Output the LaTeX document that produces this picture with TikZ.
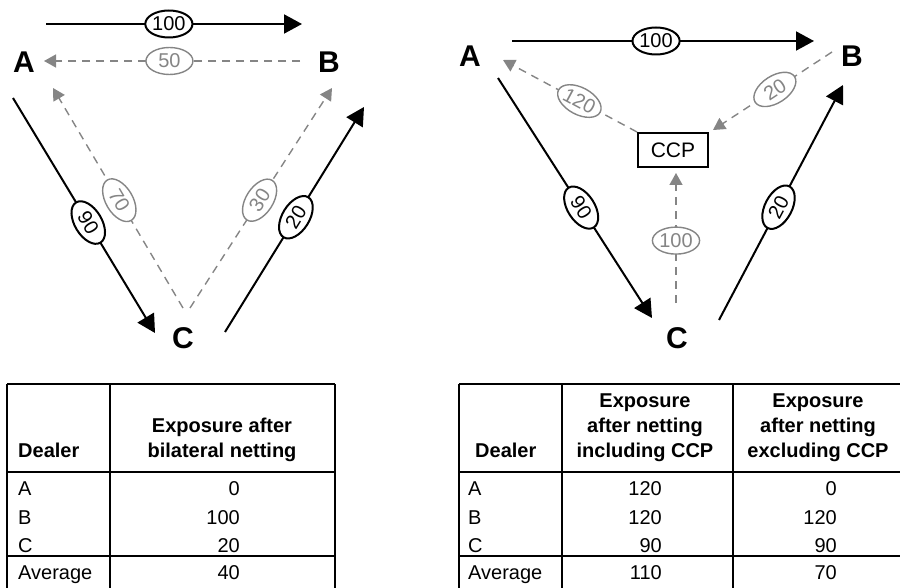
\documentclass[tikz,border=0pt]{standalone}
\usepackage{fontspec}
\setmainfont{Liberation Sans}
\usetikzlibrary{arrows.meta,shapes.geometric}
\definecolor{mid}{gray}{0.52}
\tikzset{
  party/.style={font=\fontsize{30}{34}\selectfont\bfseries,inner sep=0pt},
  arr/.style={-{Triangle[length=18pt,width=19pt]},line width=2pt},
  net/.style={-{Triangle[length=12pt,width=13pt]},line width=1.4pt,mid,
    dash pattern=on 8pt off 6pt},
  tag/.style={ellipse,draw=black,solid,line width=2pt,fill=white,inner sep=0pt,
    minimum width=47pt,minimum height=27pt,font=\fontsize{20}{22}\selectfont,text=black},
  gtag/.style={tag,draw=mid,line width=1.4pt,text=mid},
  ccpbox/.style={draw,line width=2pt,minimum width=70pt,minimum height=34pt,
    inner sep=0pt,font=\fontsize{21}{24}\selectfont},
  rule/.style={line width=1.5pt},
  hd/.style={font=\fontsize{20}{25}\selectfont\bfseries,inner sep=0pt,align=center},
  cell/.style={font=\fontsize{20}{25}\selectfont,inner sep=0pt}
}

\begin{document}
\begin{tikzpicture}[x=1pt,y=-1pt]
  \useasboundingbox (0,0) rectangle (900,588);

  % bilateral netting
  \node[party] (A) at (24,62) {A};
  \node[party] (B) at (329,62) {B};
  \node[party] (C) at (183,338) {C};
  \coordinate (ab1) at (46,24);   \coordinate (ab2) at (302,24);
  \coordinate (ba1) at (300,61);  \coordinate (ba2) at (44,61);
  \coordinate (ac1) at (13,98);   \coordinate (ac2) at (155,333);
  \coordinate (cb1) at (225,332); \coordinate (cb2) at (364,107);
  \coordinate (ca1) at (183,308); \coordinate (ca2) at (53,88);
  \coordinate (cB1) at (190,308); \coordinate (cB2) at (332,88);
  \draw[arr] (ab1) -- node[tag,pos=0.48] (tab) {100} (ab2);
  \draw[net] (ba1) -- node[gtag,pos=0.51] (tba) {50} (ba2);
  \draw[arr] (ac1) -- node[tag,sloped,pos=0.53] (tac) {90} (ac2);
  \draw[arr] (cb1) -- node[tag,sloped,pos=0.51] (tcb) {20} (cb2);
  \draw[net] (ca1) -- node[gtag,sloped,pos=0.49] (tca) {70} (ca2);
  \draw[net] (cB1) -- node[gtag,sloped,pos=0.49] (tcB) {30} (cB2);

  % netting through the CCP
  \node[party] (A2) at (470,56) {A};
  \node[party] (B2) at (852,56) {B};
  \node[party] (C2) at (677,338) {C};
  \node[ccpbox] (ccp) at (673,150) {CCP};
  \coordinate (ab3) at (512,41);  \coordinate (ab4) at (814,41);
  \coordinate (ka) at (503,60);
  \coordinate (bk1) at (832,52);  \coordinate (bk2) at (713,130);
  \coordinate (ck1) at (676,303); \coordinate (ck2) at (676,173);
  \coordinate (ac3) at (498,78);  \coordinate (ac4) at (652,318);
  \coordinate (cb3) at (719,320); \coordinate (cb4) at (843,85);
  \draw[arr] (ab3) -- node[tag,pos=0.477] (tab2) {100} (ab4);
  \draw[net] (ccp.north west) -- node[gtag,sloped,pos=0.43] (tka) {120} (ka);
  \draw[net] (bk1) -- node[gtag,sloped,pos=0.48] (tbk) {20} (bk2);
  \draw[net] (ck1) -- node[gtag,pos=0.48] (tck) {100} (ck2);
  \draw[arr] (ac3) -- node[tag,sloped,pos=0.54] (tac2) {90} (ac4);
  \draw[arr] (cb3) -- node[tag,sloped,pos=0.48] (tcb2) {20} (cb4);

  % left table
  \draw[rule] (7,384) -- (335,384) (7,472) -- (335,472) (7,556) -- (335,556);
  \draw[rule] (7,384) -- (7,590) (110,384) -- (110,590) (335,384) -- (335,590);
  \node[hd,anchor=base west] (ldealer) at (18,457) {Dealer};
  \node[hd,anchor=south] (lexp) at (222,462) {Exposure after\\bilateral netting};
  \foreach \d/\v/\y [count=\i] in {A/0/495,B/100/524,C/20/552,Average/40/579}{
    \node[cell,anchor=base west] (ld\i) at (18,\y) {\d};
    \node[cell,anchor=base east] (lv\i) at (240,\y) {\v};
  }

  % right table
  \draw[rule] (459,384) -- (902,384) (459,472) -- (902,472) (459,556) -- (902,556);
  \draw[rule] (459,384) -- (459,590) (562,384) -- (562,590) (733,384) -- (733,590);
  \node[hd,anchor=base west] (rdealer) at (475,457) {Dealer};
  \node[hd,anchor=south] (rinc) at (645,462) {Exposure\\after netting\\including CCP};
  \node[hd,anchor=south] (rexc) at (818,462) {Exposure\\after netting\\excluding CCP};
  \foreach \d/\v/\w/\y [count=\i] in {A/120/0/495,B/120/120/524,C/90/90/552,Average/110/70/579}{
    \node[cell,anchor=base west] (rd\i) at (468,\y) {\d};
    \node[cell,anchor=base east] (ri\i) at (662,\y) {\v};
    \node[cell,anchor=base east] (re\i) at (837,\y) {\w};
  }
\end{tikzpicture}
\end{document}
